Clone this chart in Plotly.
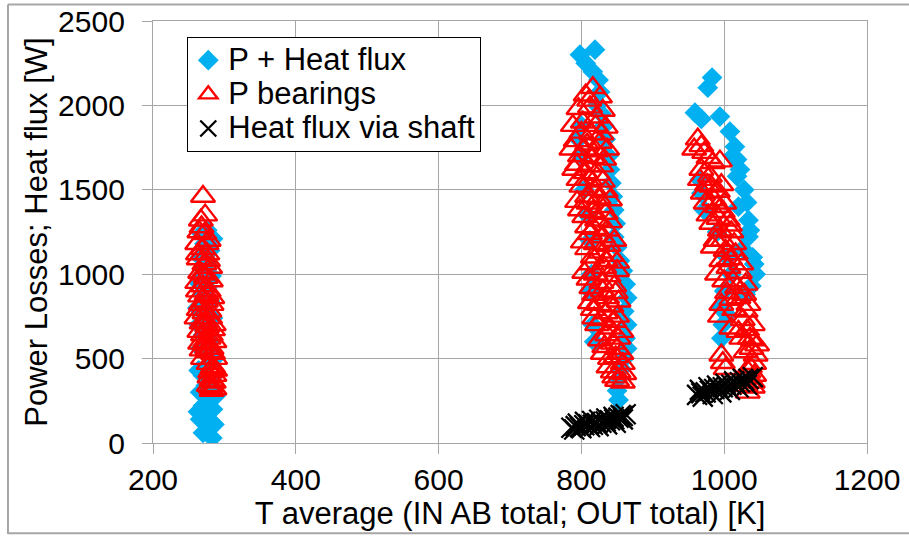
import plotly.graph_objects as go

# ---------------- data ----------------
# Series 1: P + Heat flux  (T average [K], Power [W])
p_heat_T = [
    # cluster ~270 K
    283, 270, 278, 286, 266, 274, 263, 284, 270, 278, 288, 266, 274, 282, 270, 264,
    278, 286, 272, 266, 280, 270, 276, 264, 284, 272, 262, 280, 270, 276, 264, 282,
    270, 276, 266, 280, 272, 284, 268, 276,
    # cluster ~820 K
    798, 819, 806, 816, 824, 826, 822, 828, 800, 832, 796, 834, 838, 800, 840, 842,
    804, 844, 846, 808, 848, 846, 812, 850, 854, 814, 858, 862, 812, 864, 860, 864,
    816, 862, 864, 818, 860, 856, 852, 850, 852,
    # cluster ~1000 K
    983, 977, 959, 968, 994, 1008, 1015, 1018, 1018, 1032, 1034, 1034, 966, 968, 972,
    1040, 1044, 1038, 1030, 1010, 1000, 995, 998, 996, 1004, 1026, 1036, 1042, 1028,
    1022, 1012, 990, 1004, 1020,
]
p_heat_P = [
    30, 60, 80, 110, 140, 150, 185, 200, 220, 250, 280, 300, 340, 380, 400, 430,
    460, 500, 540, 560, 600, 640, 680, 700, 740, 780, 800, 840, 880, 920, 950, 990,
    1030, 1070, 1100, 1140, 1180, 1210, 1240, 1260,
    2300, 2330, 2250, 2200, 2150, 2080, 2000, 1950, 1880, 1880, 1800, 1800, 1700, 1700, 1620, 1540,
    1500, 1460, 1380, 1350, 1300, 1220, 1200, 1160, 1080, 1000, 1020, 940, 900, 860, 780, 700,
    700, 620, 560, 600, 500, 440, 380, 310, 255,
    2165, 2105, 1957, 1920, 1934, 1845, 1755, 1680, 1580, 1425, 1320, 1222, 1560, 1480, 1380,
    1100, 1000, 930, 880, 1000, 900, 800, 700, 620, 760, 1150, 1260, 1060, 1500,
    1620, 1700, 1250, 1100, 1400,
]

# Series 2: P bearings
p_bear_T = [
    # cluster ~270 K
    270, 273, 267, 265, 272, 278, 262, 270, 276, 264, 272, 280, 266, 274, 262, 270,
    278, 266, 274, 282, 264, 272, 280, 268, 276, 284, 270, 278, 286, 274, 282, 268,
    278, 284, 280, 286, 282, 278, 286, 282,
    268, 275, 263, 277, 269, 281, 263, 275, 283, 267, 279, 261, 273, 285, 265, 281,
    273, 287, 266, 276, 284, 270, 278, 283, 287, 279, 285, 281,
    # cluster ~820 K
    816, 806, 826, 796, 812, 830, 788, 802, 820, 834, 792, 808, 826, 798, 816, 832,
    790, 806, 824, 800, 818, 834, 794, 810, 828, 804, 822, 840, 812, 830, 846, 808,
    826, 842, 814, 832, 850, 810, 828, 846, 818, 836, 852, 816, 834, 850, 822, 840,
    856, 826, 844, 830, 848, 858, 838, 852, 858, 846,
    811, 821, 800, 814, 828, 786, 804, 820, 836, 794, 810, 828, 796, 812, 830, 808,
    824, 840, 798, 816, 834, 808, 818, 836, 802, 820, 838, 816, 834, 850, 804, 820,
    838, 814, 830, 848, 824, 842, 812, 828, 846, 818, 836, 852, 832, 850, 840, 856,
    844, 860, 850,
    # cluster ~1000 K
    963, 958, 972, 984, 994, 968, 980, 976, 970, 991, 986, 998, 1005, 982, 994, 1010,
    988, 984, 1002, 1016, 996, 1022, 1006, 990, 1012, 1030, 1004, 1020, 996, 1034,
    1014, 994, 1026, 1032, 1010, 1040, 1024, 1038, 1044, 998, 1002, 1036, 1042, 1028,
    1033, 1040,
    968, 978, 966, 982, 996, 974, 990, 1000, 978, 992, 1008, 998, 1014, 1008, 1024,
    1000, 1018, 1028, 1010, 1030, 1040, 1020, 1036, 1046, 1030, 1042, 996, 1034, 1040, 1030,
]
p_bear_P = [
    1460, 1350, 1320, 1250, 1240, 1200, 1180, 1150, 1120, 1090, 1060, 1040, 1010, 980, 950, 930,
    900, 870, 840, 820, 790, 770, 740, 710, 690, 670, 640, 620, 600, 580, 560, 550,
    540, 450, 420, 400, 370, 340, 320, 310,
    1280, 1180, 1120, 1080, 1000, 960, 900, 880, 860, 820, 780, 740, 720, 700, 660, 640,
    600, 500, 590, 560, 530, 500, 470, 440, 430, 390, 360, 330,
    2105, 2060, 2050, 1980, 1990, 1970, 1880, 1900, 1880, 1870, 1790, 1770, 1780, 1700, 1690, 1680,
    1620, 1600, 1590, 1520, 1500, 1490, 1430, 1420, 1400, 1340, 1320, 1310, 1240, 1220, 1200, 1150,
    1130, 1110, 1060, 1040, 1020, 970, 950, 930, 880, 860, 840, 790, 770, 750, 700, 680,
    660, 610, 590, 530, 510, 470, 450, 420, 360, 390,
    2030, 1930, 1840, 1830, 1830, 1740, 1740, 1730, 1740, 1650, 1640, 1640, 1560, 1560, 1550, 1460,
    1450, 1440, 1380, 1370, 1360, 1280, 1270, 1260, 1190, 1180, 1170, 1100, 1080, 1070, 1010, 1000,
    990, 920, 900, 890, 820, 810, 830, 730, 720, 740, 640, 620, 570, 560, 500, 530,
    420, 410, 370,
    1800, 1740, 1720, 1660, 1670, 1620, 1580, 1530, 1480, 1490, 1440, 1370, 1320, 1300, 1260, 1250,
    1200, 1160, 1140, 1120, 1080, 1010, 1040, 1000, 960, 940, 890, 860, 820, 820,
    790, 750, 730, 670, 680, 610, 620, 560, 520, 475, 440, 450, 400, 380,
    300, 330,
    1760, 1690, 1560, 1520, 1530, 1420, 1400, 1420, 1350, 1330, 1290, 1200, 1180, 1090, 1060,
    960, 920, 880, 850, 780, 700, 660, 620, 580, 540, 470, 520, 420, 360, 340,
]

# Series 3: Heat flux via shaft
shaft_T = [
    # cluster ~820 K
    786, 792, 798, 804, 810, 816, 822, 828, 834, 840, 846, 852, 858, 862, 795, 805,
    815, 825, 835, 845, 855, 790, 800, 812, 824, 836, 848, 858,
    # cluster ~1000 K
    962, 968, 974, 980, 986, 992, 998, 1004, 1010, 1016, 1022, 1028, 1034, 1040,
    966, 978, 990, 1002, 1014, 1026, 970, 984, 996, 1008, 1020, 1032,
]
shaft_P = [
    90, 100, 95, 105, 110, 108, 118, 120, 128, 135, 140, 150, 160, 170, 115, 125,
    130, 138, 145, 155, 165, 80, 88, 95, 100, 110, 120, 140,
    285, 295, 300, 310, 320, 325, 330, 335, 345, 350, 360, 370, 380, 390,
    315, 330, 340, 350, 365, 380, 275, 290, 300, 315, 330, 345,
]

series_names = ["P + Heat flux", "P bearings", "Heat flux via shaft"]
x_ticks = [200, 400, 600, 800, 1000, 1200]
y_ticks = [0, 500, 1000, 1500, 2000, 2500]
x_title = "T average (IN AB total; OUT total) [K]"
y_title = "Power Losses; Heat flux [W]"

# ---------------- figure ----------------
FONT = "Arial, Liberation Sans, sans-serif"
GRID = "#A6A6A6"


def legend_label(name):
    # larger glyphs inside a compact legend row
    return '<span style="font-size:31px">' + name + '</span>'


fig = go.Figure()
fig.add_trace(go.Scatter(
    x=p_heat_T, y=p_heat_P, mode="markers", name=legend_label(series_names[0]),
    marker=dict(symbol="diamond", size=16, color="#00B0F0", line=dict(width=0)),
))
fig.add_trace(go.Scatter(
    x=p_bear_T, y=p_bear_P, mode="markers", name=legend_label(series_names[1]),
    marker=dict(symbol="triangle-up-open", size=21, color="#FF0000", line=dict(width=2.4, color="#FF0000")),
))
fig.add_trace(go.Scatter(
    x=shaft_T, y=shaft_P, mode="markers", name=legend_label(series_names[2]),
    marker=dict(symbol="x-thin-open", size=20, color="#000000", line=dict(width=2.3, color="#000000")),
))

axis_common = dict(
    showgrid=True, gridcolor=GRID, gridwidth=1.3,
    showline=True, linecolor=GRID, linewidth=1.3, mirror=True,
    ticks="outside", ticklen=10, tickcolor=GRID, tickwidth=1.3,
    zeroline=False, automargin=False,
    tickfont=dict(family=FONT, size=30, color="#000000"),
)

fig.update_xaxes(
    range=[200, 1200], tickvals=x_ticks, ticktext=[str(v) for v in x_ticks],
    title=dict(text=x_title, font=dict(family=FONT, size=31, color="#000000"), standoff=2),
    **axis_common,
)
fig.update_yaxes(
    range=[0, 2500], tickvals=y_ticks, ticktext=[str(v) for v in y_ticks],
    ticklabelstandoff=11,
    title=dict(text=y_title, font=dict(family=FONT, size=31, color="#000000"), standoff=1),
    **axis_common,
)

frame = dict(xref="paper", yref="paper", line=dict(color="#A6A6A6", width=2), layer="above")
fx0, fx1, fy0, fy1 = -0.2031, 1.07, -0.2159, 1.0391

fig.update_layout(
    width=909, height=536, autosize=False,
    margin=dict(l=153, r=42, t=21, b=93),
    paper_bgcolor="white", plot_bgcolor="white",
    font=dict(family=FONT, color="#000000"),
    legend=dict(
        x=0.048, y=0.962, xanchor="left", yanchor="top",
        bgcolor="white", bordercolor="#000000", borderwidth=1,
        font=dict(family=FONT, size=24, color="#000000"),
        tracegroupgap=0, itemsizing="trace",
    ),
    shapes=[
        dict(type="line", x0=fx0, x1=fx0, y0=fy0, y1=fy1, **frame),
        dict(type="line", x0=fx0, x1=fx1, y0=fy1, y1=fy1, **frame),
        dict(type="line", x0=fx0, x1=fx1, y0=fy0 + 0.002, y1=fy0 + 0.002, **frame),
    ],
)

fig.write_html(
    "out.html",
    config={"displayModeBar": False},
    post_script="document.body.style.margin='0';document.body.style.padding='0';",
)
